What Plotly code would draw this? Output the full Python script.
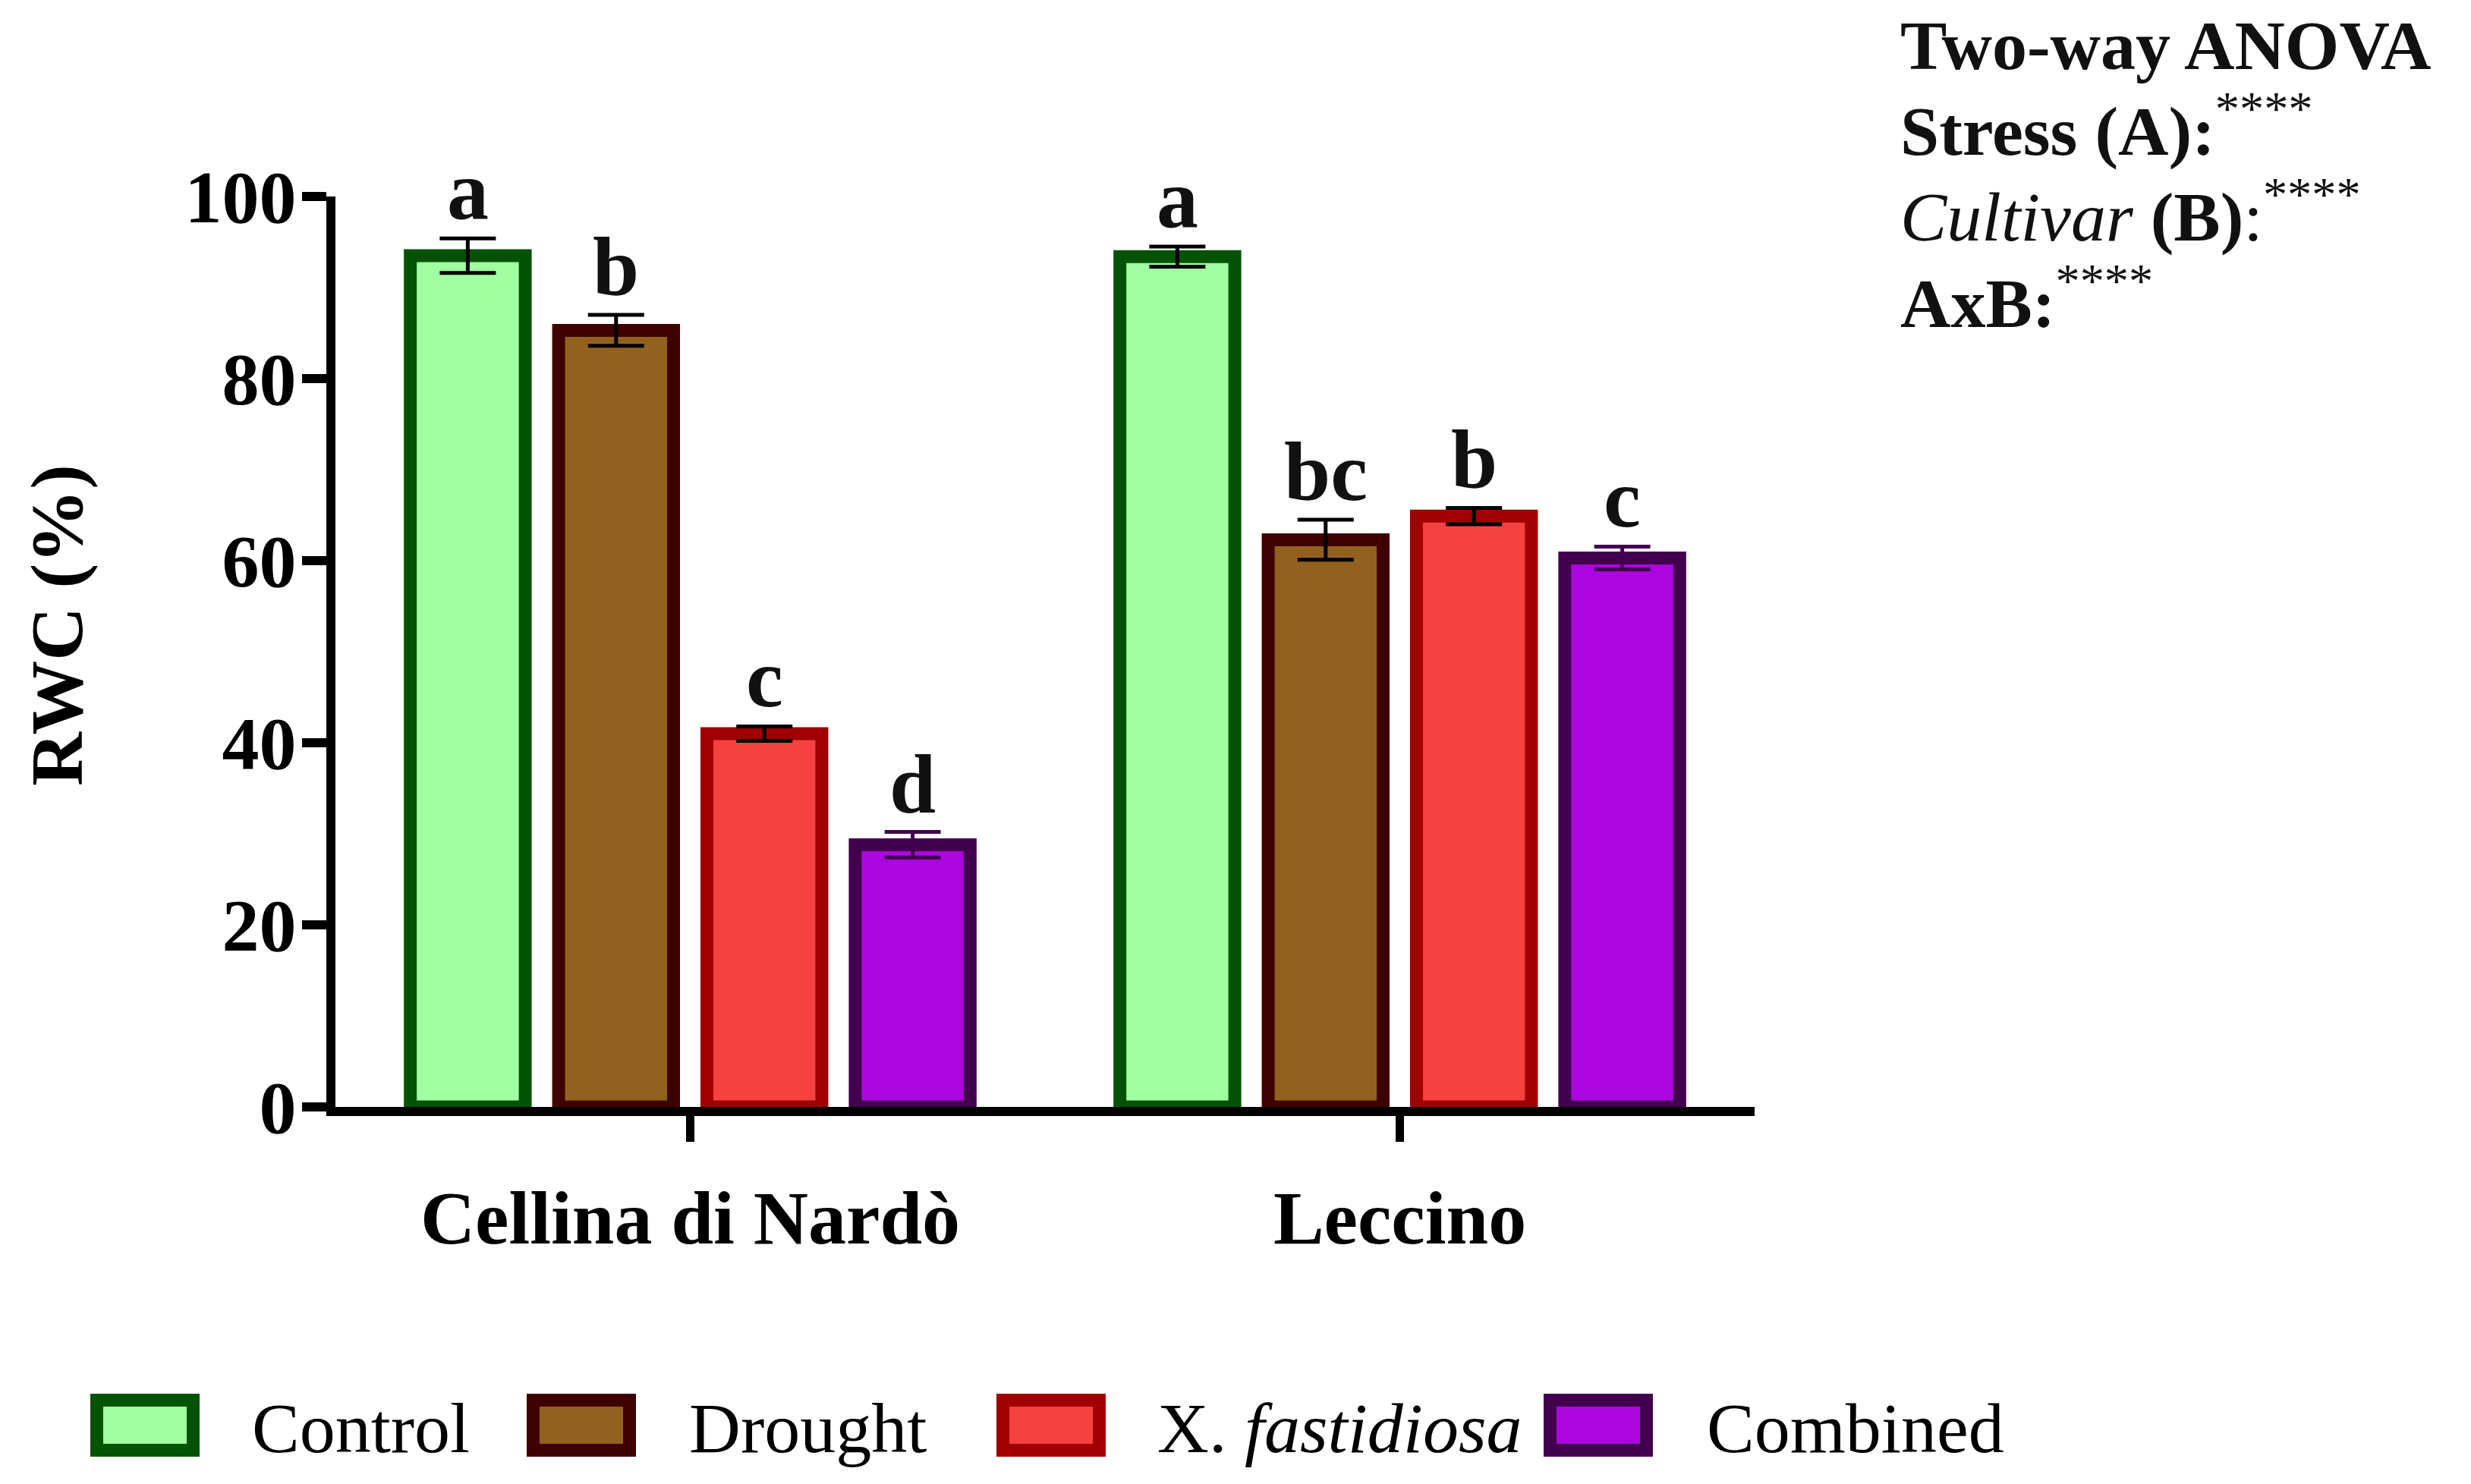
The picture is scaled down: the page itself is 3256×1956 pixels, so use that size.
import plotly.graph_objects as go

# data
cultivars = ["Cellina di Nardò", "Leccino"]
treatments = ["Control", "Drought", "X. fastidiosa", "Combined"]
legend_labels = ["Control", "Drought", "X. <i>fastidiosa</i>", "Combined"]

rwc_mean = {
    "Control": [93.5, 93.4],
    "Drought": [85.3, 62.3],
    "X. fastidiosa": [41.0, 64.9],
    "Combined": [28.8, 60.3],
}
rwc_err = {
    "Control": [1.9, 1.1],
    "Drought": [1.7, 2.2],
    "X. fastidiosa": [0.8, 0.9],
    "Combined": [1.4, 1.25],
}
letters = {
    "Control": ["a", "a"],
    "Drought": ["b", "bc"],
    "X. fastidiosa": ["c", "b"],
    "Combined": ["d", "c"],
}
y_ticks = [0, 20, 40, 60, 80, 100]

# styles
fill_colors = ["#A0FFA0", "#93611E", "#F64141", "#AC06E0"]
line_colors = ["#045304", "#3F0000", "#A00000", "#42004F"]
err_colors = ["black", "black", "black", "#42004F"]

FONT = "Liberation Serif"
W, H = 3256, 1956
L, R, T, B = 442, 944, 259, 497
PW, PH = W - L - R, H - T - B
BARGAP = 0.164
OUTLINE = 17


def px_x(x):
    return (x - L) / PW


def px_y(y):
    return (T + PH - y) / PH


fig = go.Figure()

for j, tr in enumerate(treatments):
    fig.add_trace(go.Bar(
        x=cultivars,
        y=rwc_mean[tr],
        name=tr,
        showlegend=False,
        marker=dict(color=fill_colors[j], line=dict(color=line_colors[j], width=OUTLINE)),
        error_y=dict(type="data", array=rwc_err[tr], color=err_colors[j], thickness=5, width=37),
    ))

# significance letters above each bar
slot = (1 - BARGAP) / len(treatments)
annotations = []
for j, tr in enumerate(treatments):
    for i in range(len(cultivars)):
        annotations.append(dict(
            x=i + (j - 1.5) * slot, y=rwc_mean[tr][i] + rwc_err[tr][i],
            xref="x", yref="y", text="<b>%s</b>" % letters[tr][i],
            showarrow=False, yanchor="bottom", xanchor="center",
            font=dict(family=FONT, size=110, color="#111111"),
        ))

# two-way ANOVA summary, top right
anova_lines = [
    "<b>Two-way ANOVA</b>",
    "<b>Stress (A):</b><sup>****</sup>",
    "<i>Cultivar</i> <b>(B)</b>:<sup>****</sup>",
    "<b>AxB:</b><sup>****</sup>",
]
anova_bottom = [113, 226, 339, 453]
for txt, yb in zip(anova_lines, anova_bottom):
    annotations.append(dict(
        x=px_x(2502), y=px_y(yb), xref="paper", yref="paper", text=txt,
        showarrow=False, xanchor="left", yanchor="bottom", align="left",
        font=dict(family=FONT, size=92, color="#111111"),
    ))

# y axis title
annotations.append(dict(
    x=px_x(75), y=px_y(824), xref="paper", yref="paper", text="<b>RWC (%)</b>",
    textangle=-90, showarrow=False, xanchor="center", yanchor="middle",
    font=dict(family=FONT, size=98, color="black"),
))

# legend drawn by hand so the swatches can be large
legend_swatch_x = [119, 694, 1313, 2034]
legend_text_x = [330, 906, 1523, 2247]
sw_w, sw_top, sw_bot = 144, 1837, 1920
shapes = []
for j in range(len(treatments)):
    x0 = legend_swatch_x[j]
    shapes.append(dict(
        type="rect", xref="paper", yref="paper",
        x0=px_x(x0 + OUTLINE / 2), x1=px_x(x0 + sw_w - OUTLINE / 2),
        y0=px_y(sw_bot - OUTLINE / 2), y1=px_y(sw_top + OUTLINE / 2),
        fillcolor=fill_colors[j], line=dict(color=line_colors[j], width=OUTLINE),
    ))
    annotations.append(dict(
        x=px_x(legend_text_x[j]), y=px_y(1882), xref="paper", yref="paper",
        text=legend_labels[j], showarrow=False, xanchor="left", yanchor="middle",
        font=dict(family=FONT, size=94, color="black"),
    ))

fig.update_layout(
    width=W, height=H,
    margin=dict(l=L, r=R, t=T, b=B, autoexpand=False),
    template="none",
    paper_bgcolor="white", plot_bgcolor="white",
    barmode="group", bargap=BARGAP, bargroupgap=0.225,
    showlegend=False,
    annotations=annotations,
    shapes=shapes,
    xaxis=dict(
        type="category", range=[-0.5, 1.5], automargin=False,
        showline=True, linecolor="black", linewidth=12,
        ticks="outside", ticklen=34, tickwidth=11, tickcolor="black",
        ticklabelstandoff=14, showgrid=False, zeroline=False,
        tickfont=dict(family=FONT, size=100, color="black", weight="bold"),
    ),
    yaxis=dict(
        range=[0, 100], tickvals=y_ticks, automargin=False,
        showline=True, linecolor="black", linewidth=12,
        ticks="outside", ticklen=32, tickwidth=12, tickcolor="black",
        ticklabelstandoff=-12, showgrid=False, zeroline=False,
        tickfont=dict(family=FONT, size=98, color="black", weight="bold"),
    ),
)

fig.write_html("out.html", config={"displayModeBar": False},
               post_script="document.body.style.margin='0';")
